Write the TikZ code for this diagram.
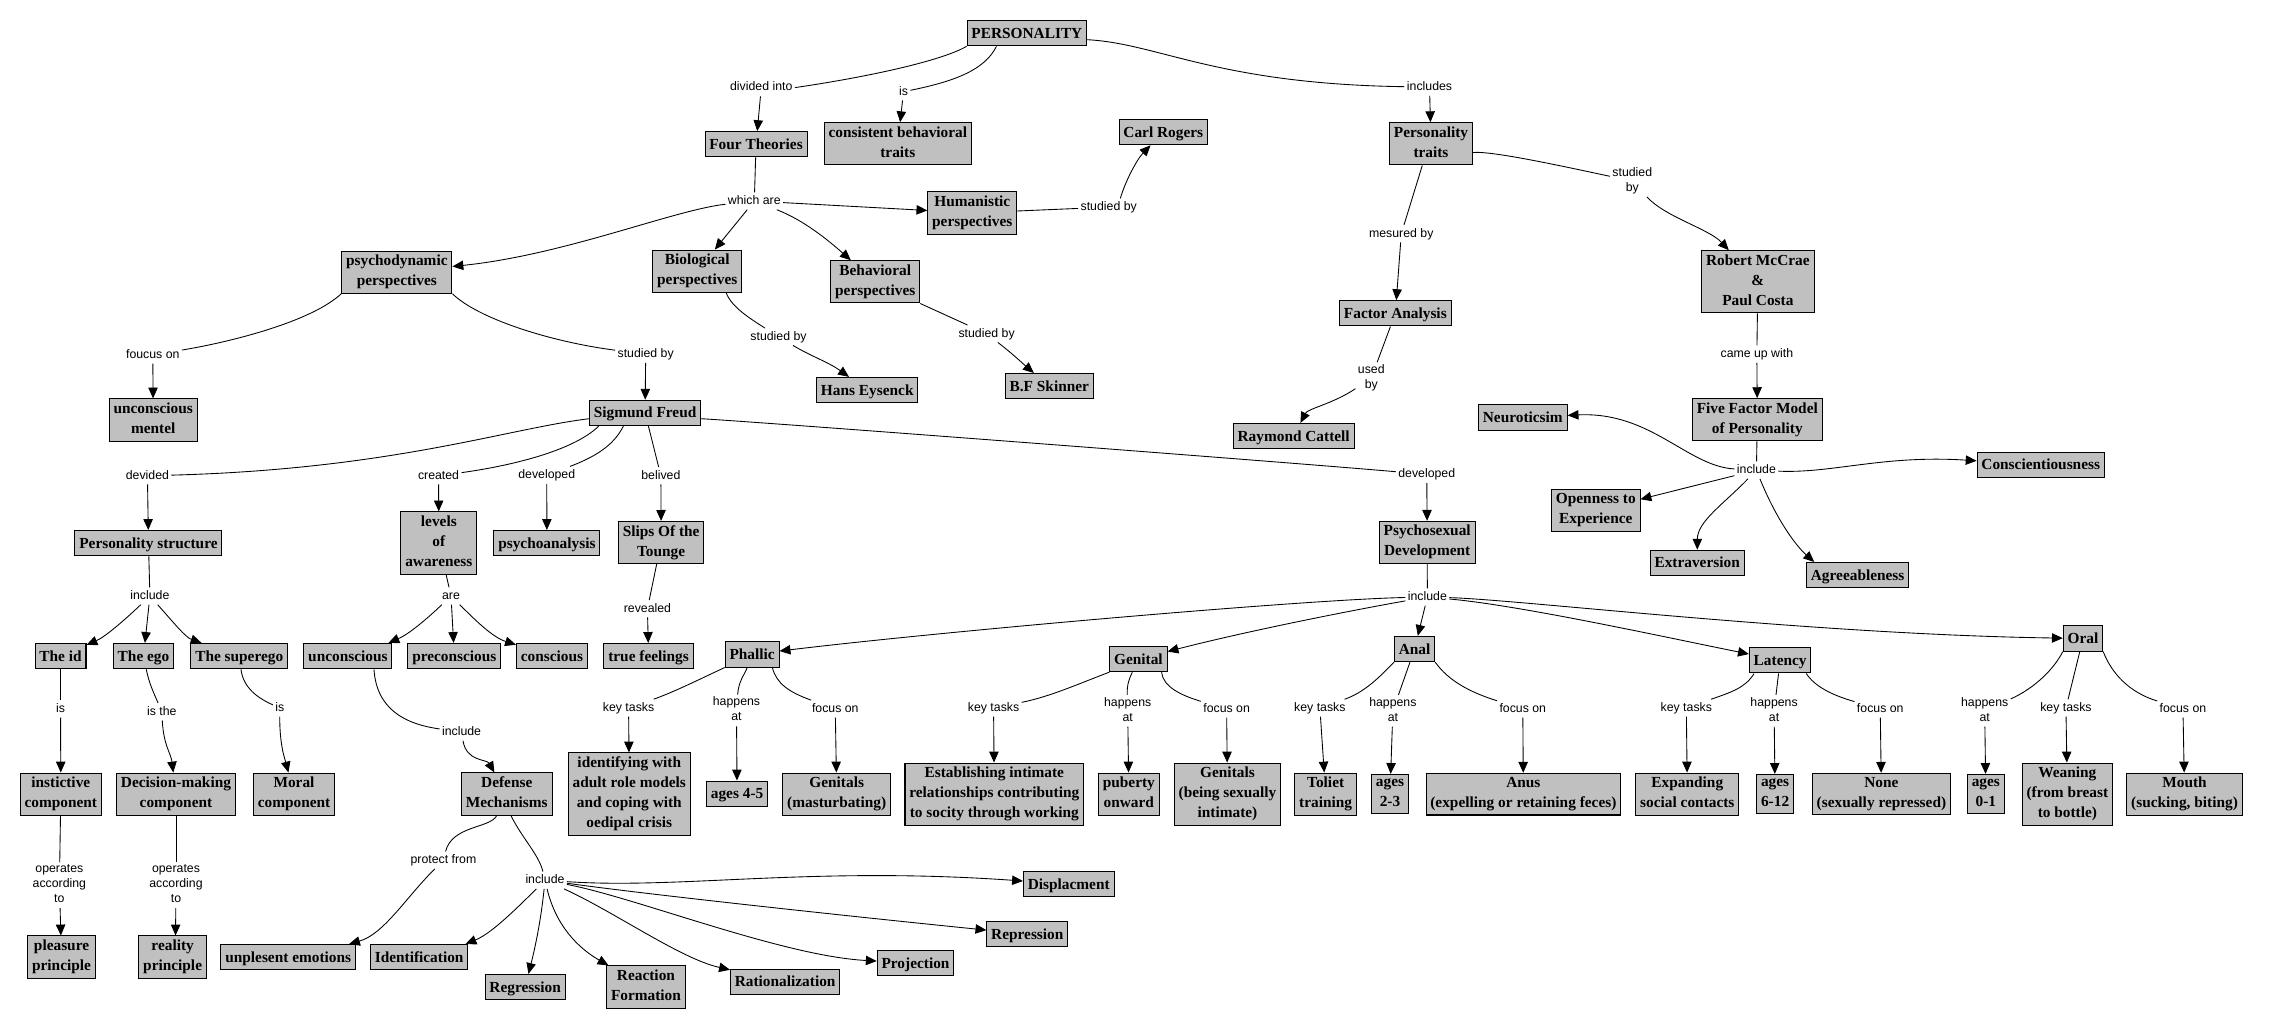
\documentclass[tikz,border=0pt]{standalone}
\usepackage{fontspec}
\setmainfont{Liberation Serif}
\newfontfamily\lblfamily{Liberation Sans}
\usetikzlibrary{arrows.meta}
\definecolor{boxgray}{RGB}{192,192,192}
\newcommand\cstrut{\rule[-2.6pt]{0pt}{12.1pt}}
\newcommand\lstrut{\rule[-2pt]{0pt}{8.6pt}}
\tikzset{
  concept/.style={draw=black, line width=0.7pt, fill=boxgray, align=center,
    font=\fontsize{10.6}{13.8}\selectfont\bfseries, inner xsep=3pt, inner ysep=2.7pt,
    execute at begin node=\cstrut, execute at end node=\cstrut},
  lbl/.style={align=center, font=\lblfamily\fontsize{8.5}{10.3}\selectfont, inner sep=1.5pt,
    execute at begin node=\lstrut, execute at end node=\lstrut},
  link/.style={line width=0.6pt},
  arr/.style={line width=0.6pt, -{Triangle[length=7.5pt,width=6.5pt]}},
}
\begin{document}
\begin{tikzpicture}[x=1pt,y=-1pt]
\fill[white] (0,0) rectangle (1568,710.6);
\useasboundingbox (0,0) rectangle (1568,710.6);
% ---------- concepts ----------
\node[concept] (PERS) at (709,22.9) {PERSONALITY};
\node[concept] (FourT) at (522,99.6) {Four Theories};
\node[concept] (Consist) at (619.9,99.3) {consistent behavioral\\traits};
\node[concept] (Carl) at (803.2,91.2) {Carl Rogers};
\node[concept] (PTraits) at (988,99.3) {Personality\\traits};
\node[concept] (Human) at (671.3,147) {Humanistic\\perspectives};
\node[concept] (Psycho) at (274,187.9) {psychodynamic\\perspectives};
\node[concept] (Bio) at (481.4,187.2) {Biological\\perspectives};
\node[concept] (Behav) at (604.3,194.6) {Behavioral\\perspectives};
\node[concept] (McCrae) at (1213.7,194.6) {Robert McCrae\\\&\\Paul Costa};
\node[concept] (FA) at (963.4,216.3) {Factor Analysis};
\node[concept] (Hans) at (598.8,269.3) {Hans Eysenck};
\node[concept] (Skinner) at (724.5,266.6) {B.F Skinner};
\node[concept] (UncM) at (105.8,290) {unconscious\\mentel};
\node[concept] (Freud) at (445.4,285.1) {Sigmund Freud};
\node[concept] (FFM) at (1213.3,289.8) {Five Factor Model\\of Personality};
\node[concept] (Cattell) at (893.2,301.1) {Raymond Cattell};
\node[concept] (Neuro) at (1051.4,288.3) {Neuroticsim};
\node[concept] (Consc) at (1409,321) {Conscientiousness};
\node[concept] (Open) at (1101.8,352.4) {Openness to\\Experience};
\node[concept] (Extra) at (1171.8,388.6) {Extraversion};
\node[concept] (Agree) at (1282.6,397.1) {Agreeableness};
\node[concept] (PStruct) at (102.5,375) {Personality structure};
\node[concept] (Levels) at (303,374.9) {levels\\of\\awareness};
\node[concept] (PsyAn) at (377.6,375) {psychoanalysis};
\node[concept] (Slips) at (456.5,374.6) {Slips Of the\\Tounge};
\node[concept] (PsySex) at (985.4,374.5) {Psychosexual\\Development};
\node[concept] (Id) at (41.8,453) {The id};
\node[concept] (Ego) at (99.1,453) {The ego};
\node[concept] (Superego) at (165.2,453) {The superego};
\node[concept] (Uncon) at (240.2,453) {unconscious};
\node[concept] (Precon) at (313.7,453) {preconscious};
\node[concept] (Con) at (381.1,453) {conscious};
\node[concept] (TrueF) at (447.8,453) {true feelings};
\node[concept] (Phallic) at (519.3,451.8) {Phallic};
\node[concept] (Genital) at (786,455) {Genital};
\node[concept] (Anal) at (976.7,448.1) {Anal};
\node[concept] (Latency) at (1229.1,455.9) {Latency};
\node[concept] (Oral) at (1438.2,440.8) {Oral};
\node[concept] (Instinct) at (42,548.3) {instictive\\component};
\node[concept] (Decision) at (121.5,548.3) {Decision-making\\component};
\node[concept] (Moral) at (203,548.3) {Moral\\component};
\node[concept] (Defense) at (349.9,548.3) {Defense\\Mechanisms};
\node[concept] (Identify) at (434.5,548.3) {identifying with\\adult role models\\and coping with\\oedipal crisis};
\node[concept] (Ages45) at (508.9,548) {ages 4-5};
\node[concept] (GenMast) at (577.7,548.3) {Genitals\\(masturbating)};
\node[concept] (Estab) at (686.5,548.3) {Establishing intimate\\relationships contributing\\to socity through working};
\node[concept] (Puberty) at (779.4,548.3) {puberty\\onward};
\node[concept] (GenInt) at (847.5,548.3) {Genitals\\(being sexually\\intimate)};
\node[concept] (Toliet) at (915.3,548.3) {Toliet\\training};
\node[concept] (Ages23) at (959.7,548.3) {ages\\2-3};
\node[concept] (Anus) at (1051.8,548.3) {Anus\\(expelling or retaining feces)};
\node[concept] (Expand) at (1165,548.3) {Expanding\\social contacts};
\node[concept] (Ages612) at (1225.6,548.3) {ages\\6-12};
\node[concept] (None) at (1299,548.3) {None\\(sexually repressed)};
\node[concept] (Ages01) at (1371.1,548.3) {ages\\0-1};
\node[concept] (Wean) at (1427.4,548.3) {Weaning\\(from breast\\to bottle)};
\node[concept] (Mouth) at (1508.3,548.3) {Mouth\\(sucking, biting)};
\node[concept] (Pleasure) at (42.5,660.8) {pleasure\\principle};
\node[concept] (Reality) at (119.2,660.8) {reality\\principle};
\node[concept] (Unpl) at (199,660.9) {unplesent emotions};
\node[concept] (Identif) at (289.4,660.9) {Identification};
\node[concept] (Regress) at (362.6,681.5) {Regression};
\node[concept] (ReactF) at (446,681.5) {Reaction\\Formation};
\node[concept] (Ration) at (542.1,678) {Rationalization};
\node[concept] (Proj) at (632.1,665) {Projection};
\node[concept] (Repress) at (709.3,645) {Repression};
\node[concept] (Displ) at (737.9,610.5) {Displacment};
% ---------- linking phrases ----------
\node[lbl] (Ldiv) at (525.6,60.5) {divided into};
\node[lbl] (Lis) at (623.8,63.3) {is};
\node[lbl] (Lincludes) at (987,60.1) {includes};
\node[lbl] (Lwhich) at (520.8,138.8) {which are};
\node[lbl] (LsbHum) at (765.5,143) {studied by};
\node[lbl] (Lfoucus) at (105.5,245) {foucus on};
\node[lbl] (LsbPsy) at (445.8,244.5) {studied by};
\node[lbl] (LsbBio) at (537.5,232.5) {studied by};
\node[lbl] (LsbBeh) at (681.2,230.4) {studied by};
\node[lbl] (Lmesured) at (967.5,161.4) {mesured by};
\node[lbl] (Lused) at (946.8,261) {used\\by};
\node[lbl] (LsbPT) at (1127,125) {studied\\by};
\node[lbl] (Lcame) at (1213,244.5) {came up with};
\node[lbl] (Linc5) at (1212.7,324.6) {include};
\node[lbl] (Ldevided) at (101.8,328.5) {devided};
\node[lbl] (Lcreated) at (302.8,328.5) {created};
\node[lbl] (Ldev1) at (377.5,328) {developed};
\node[lbl] (Lbelived) at (456.3,328.5) {belived};
\node[lbl] (Ldev2) at (985.1,327.6) {developed};
\node[lbl] (LincPS) at (103.5,411.5) {include};
\node[lbl] (Lare) at (311.4,411.5) {are};
\node[lbl] (Lrevealed) at (447,420.3) {revealed};
\node[lbl] (LincPsd) at (985.5,412.2) {include};
\node[lbl] (LisId) at (41.8,489.5) {is};
\node[lbl] (LisThe) at (111.7,491.4) {is the};
\node[lbl] (LisSup) at (193.2,488.8) {is};
\node[lbl] (LincUnc) at (318.7,505.4) {include};
\node[lbl] (LktP) at (434,488.7) {key tasks};
\node[lbl] (LhaP) at (508.5,490.5) {happens\\at};
\node[lbl] (LfoP) at (576.7,489.4) {focus on};
\node[lbl] (LktG) at (686,488.8) {key tasks};
\node[lbl] (LhaG) at (778.6,490.7) {happens\\at};
\node[lbl] (LfoG) at (846.9,489.5) {focus on};
\node[lbl] (LktA) at (911.3,488.8) {key tasks};
\node[lbl] (LhaA) at (961.7,490.7) {happens\\at};
\node[lbl] (LfoA) at (1051.4,489.4) {focus on};
\node[lbl] (LktL) at (1164.3,488.8) {key tasks};
\node[lbl] (LhaL) at (1224.9,490.7) {happens\\at};
\node[lbl] (LfoL) at (1298.2,489.5) {focus on};
\node[lbl] (LhaO) at (1370.3,490.7) {happens\\at};
\node[lbl] (LktO) at (1426.4,488.8) {key tasks};
\node[lbl] (LfoO) at (1507.2,489.5) {focus on};
\node[lbl] (Lop1) at (41,611.2) {operates\\according\\to};
\node[lbl] (Lop2) at (121.5,611.2) {operates\\according\\to};
\node[lbl] (Lprotect) at (306.2,593.9) {protect from};
\node[lbl] (LincDef) at (376.3,607.7) {include};
% ---------- connections: top ----------
\draw[link] (PERS.south west) .. controls (650,42) and (600,53) .. (Ldiv.east);
\draw[arr] (Ldiv) -- (FourT);
\draw[link] ([xshift=-21pt]PERS.south) .. controls (680,48) and (660,56) .. (Lis);
\draw[arr] (Lis) -- (Consist);
\draw[link] ([yshift=-4.5pt]PERS.east) .. controls (800,30) and (840,58) .. (Lincludes);
\draw[arr] (Lincludes) -- (PTraits);
\draw[link] (FourT) -- (Lwhich);
\draw[arr] (Lwhich) .. controls (465,145) and (390,176) .. (Psycho);
\draw[arr] (Lwhich) -- (Bio);
\draw[arr] (Lwhich) -- (Human);
\draw[arr] (Lwhich) .. controls (555,152) and (572,166) .. (Behav);
\draw[link] (Human) -- (LsbHum);
\draw[arr] ([xshift=8pt]LsbHum.north) .. controls (777,125) and (785,110) .. (Carl);
\draw[link] (Psycho.south west) .. controls (215,222) and (160,236) .. (Lfoucus);
\draw[arr] (Lfoucus) -- (UncM);
\draw[link] (Psycho.south east) .. controls (330,220) and (380,236) .. (LsbPsy);
\draw[arr] (LsbPsy) -- (Freud);
\draw[link] ([xshift=20pt]Bio.south) .. controls (505,212) and (518,220) .. (LsbBio);
\draw[arr] (LsbBio) .. controls (560,246) and (572,250) .. (Hans);
\draw[link] (Behav.south east) -- (LsbBeh);
\draw[arr] (LsbBeh) .. controls (700,245) and (705,250) .. (Skinner);
\draw[link] ([xshift=-6pt]PTraits.south) -- (Lmesured);
\draw[arr] (Lmesured) -- (FA);
\draw[link] (FA) -- (Lused);
\draw[arr] (Lused) .. controls (920,279) and (903,282) .. (Cattell);
\draw[link] ([yshift=-6pt]PTraits.east) .. controls (1030,104) and (1080,115) .. (LsbPT);
\draw[arr] (LsbPT) .. controls (1150,150) and (1180,158) .. (McCrae);
\draw[link] (McCrae) -- (Lcame);
\draw[arr] (Lcame) -- (FFM);
\draw[link] (FFM) -- (Linc5);
\draw[arr] (Linc5) .. controls (1165,322) and (1140,284) .. (Neuro);
\draw[arr] (Linc5) -- (Open);
\draw[arr] (Linc5) .. controls (1265,327) and (1300,314) .. (Consc);
\draw[arr] (Linc5) .. controls (1190,348) and (1172,360) .. (Extra);
\draw[arr] (Linc5) .. controls (1225,355) and (1238,375) .. ([xshift=-30pt]Agree.north);
% ---------- Freud ----------
\draw[link] ([yshift=-4pt]Freud.west) .. controls (350,296) and (270,324) .. (Ldevided);
\draw[arr] (Ldevided) -- (PStruct);
\draw[link] ([xshift=-32pt]Freud.south) .. controls (395,312) and (350,322) .. (Lcreated);
\draw[arr] (Lcreated) -- (Levels);
\draw[link] ([xshift=-15pt]Freud.south) .. controls (425,305) and (415,314) .. (Ldev1);
\draw[arr] (Ldev1) -- (PsyAn);
\draw[link] (Freud) -- (Lbelived);
\draw[arr] (Lbelived) -- (Slips);
\draw[link] ([yshift=-4pt]Freud.east) .. controls (520,291) and (900,320) .. (Ldev2);
\draw[arr] (Ldev2) -- (PsySex);
% ---------- personality structure ----------
\draw[link] (PStruct) -- (LincPS);
\draw[arr] (LincPS) .. controls (84,430) and (72,440) .. (Id);
\draw[arr] (LincPS) -- (Ego);
\draw[arr] (LincPS) .. controls (120,430) and (128,440) .. (Superego);
\draw[link] (Id) -- (LisId);
\draw[arr] (LisId) -- (Instinct);
\draw[link] (Ego) .. controls (103,472) and (106,478) .. (LisThe);
\draw[arr] (LisThe) .. controls (113,515) and (118,520) .. (Decision);
\draw[link] (Superego) .. controls (168,475) and (178,482) .. (LisSup);
\draw[arr] (LisSup) .. controls (193,515) and (197,525) .. (Moral);
\draw[link] (Instinct) -- (Lop1);
\draw[arr] (Lop1) -- (Pleasure);
\draw[link] (Decision) -- (Lop2);
\draw[arr] (Lop2) -- ([xshift=2pt]Reality.north);
% ---------- levels of awareness ----------
\draw[link] (Levels) -- (Lare);
\draw[arr] (Lare) .. controls (294,428) and (282,438) .. ([xshift=28pt]Uncon.north);
\draw[arr] (Lare) -- (Precon);
\draw[arr] (Lare) .. controls (328,428) and (340,440) .. (Con);
\draw[link] (Slips) -- (Lrevealed);
\draw[arr] (Lrevealed) -- (TrueF);
\draw[link] ([xshift=18pt]Uncon.south) .. controls (260,490) and (280,500) .. (LincUnc);
\draw[arr] (LincUnc) .. controls (322,526) and (336,524) .. (Defense);
\draw[link] ([xshift=-7pt]Defense.south) .. controls (338,572) and (312,570) .. (Lprotect);
\draw[arr] (Lprotect) .. controls (280,620) and (265,645) .. ([xshift=42pt]Unpl.north);
\draw[link] ([xshift=3pt]Defense.south) .. controls (360,578) and (372,590) .. (LincDef);
\draw[arr] (LincDef) .. controls (352,632) and (338,645) .. ([xshift=32pt]Identif.north);
\draw[arr] (LincDef) .. controls (373,640) and (368,660) .. (Regress);
\draw[arr] (LincDef) .. controls (384,640) and (400,655) .. (ReactF);
\draw[arr] (LincDef) .. controls (425,630) and (470,662) .. (Ration);
\draw[arr] (LincDef) .. controls (440,620) and (540,660) .. (Proj);
\draw[arr] (LincDef) .. controls (450,618) and (600,634) .. (Repress);
\draw[arr] (LincDef) .. controls (470,614) and (560,598) .. (Displ);
% ---------- psychosexual ----------
\draw[link] (PsySex) -- (LincPsd);
\draw[arr] (LincPsd) .. controls (900,414) and (650,436) .. (Phallic);
\draw[arr] (LincPsd) .. controls (930,422) and (860,436) .. (Genital);
\draw[arr] (LincPsd) -- (Anal);
\draw[arr] (LincPsd) .. controls (1050,418) and (1150,440) .. (Latency);
\draw[arr] (LincPsd) .. controls (1050,414) and (1250,438) .. (Oral);
% Phallic
\draw[link] (Phallic.south west) .. controls (485,468) and (465,478) .. (LktP);
\draw[arr] (LktP) -- (Identify);
\draw[link] (Phallic) .. controls (514,466) and (510,470) .. (LhaP);
\draw[arr] (LhaP) -- (Ages45);
\draw[link] ([xshift=14pt]Phallic.south) .. controls (536,472) and (545,478) .. (LfoP);
\draw[arr] (LfoP) -- (GenMast);
% Genital
\draw[link] (Genital.south west) .. controls (745,472) and (725,481) .. (LktG);
\draw[arr] (LktG) -- (Estab);
\draw[link] (Genital) .. controls (780,468) and (778,472) .. (LhaG);
\draw[arr] (LhaG) -- (Puberty);
\draw[link] ([xshift=16pt]Genital.south) .. controls (803,474) and (815,480) .. (LfoG);
\draw[arr] (LfoG) -- (GenInt);
% Anal
\draw[link] (Anal.south west) .. controls (952,468) and (942,478) .. (LktA);
\draw[arr] (LktA) -- (Toliet);
\draw[link] (Anal) -- (LhaA);
\draw[arr] (LhaA) -- (Ages23);
\draw[link] (Anal.south east) .. controls (1000,470) and (1015,478) .. (LfoA);
\draw[arr] (LfoA) -- (Anus);
% Latency
\draw[link] ([xshift=-18pt]Latency.south) .. controls (1205,475) and (1195,478) .. (LktL);
\draw[arr] (LktL) -- (Expand);
\draw[link] (Latency) -- (LhaL);
\draw[arr] (LhaL) -- (Ages612);
\draw[link] ([xshift=18pt]Latency.south) .. controls (1253,474) and (1265,480) .. (LfoL);
\draw[arr] (LfoL) -- (None);
% Oral
\draw[link] (Oral.south west) .. controls (1418,462) and (1405,475) .. (LhaO);
\draw[arr] (LhaO) -- (Ages01);
\draw[link] (Oral) -- (LktO);
\draw[arr] (LktO) -- (Wean);
\draw[link] (Oral.south east) .. controls (1458,465) and (1470,478) .. (LfoO);
\draw[arr] (LfoO) -- (Mouth);
\end{tikzpicture}
\end{document}
